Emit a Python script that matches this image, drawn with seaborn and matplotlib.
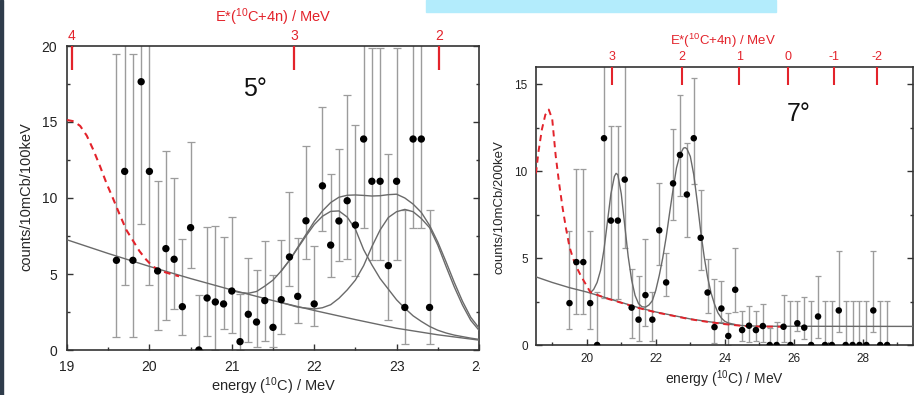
import numpy as np
import matplotlib
matplotlib.use("Agg")
import matplotlib.pyplot as plt
from matplotlib.patches import Rectangle
from matplotlib.ticker import MultipleLocator
import seaborn as sns

# ---------------- data: 5 degree panel ----------------
e5 = [19.6, 19.7, 19.8, 19.9, 20.0, 20.1, 20.2, 20.3, 20.4, 20.5, 20.6, 20.7, 20.8,
      20.9, 21.0, 21.1, 21.2, 21.3, 21.4, 21.5, 21.6, 21.7, 21.8, 21.9, 22.0, 22.1,
      22.2, 22.3, 22.4, 22.5, 22.6, 22.7, 22.8, 22.9, 23.0, 23.1, 23.2, 23.3, 23.4]
c5 = [5.9, 11.75, 5.9, 17.65, 11.75, 5.2, 6.67, 5.97, 2.85, 8.05, 0.0, 3.42, 3.16,
      3.03, 3.88, 0.55, 2.35, 1.84, 3.25, 1.49, 3.31, 6.12, 3.53, 8.5, 3.03, 10.8,
      6.9, 8.49, 9.82, 8.22, 13.88, 11.1, 11.1, 5.55, 11.1, 2.8, 13.88, 13.88, 2.8]
lo5 = [0.85, 4.27, 0.85, 8.3, 4.27, 1.3, 2.0, 2.68, 1.0, 5.4, 0.0, 0.9, 0.0,
       1.4, 1.1, 0.0, 0.55, 0.18, 0.6, 0.2, 1.03, 4.2, 1.8, 5.97, 1.6, 7.8,
       4.82, 5.86, 6.0, 4.9, 8.05, 5.9, 5.9, 2.0, 5.9, 0.4, 8.05, 8.05, 0.4]
hi5 = [19.5, 24.0, 19.5, 24.0, 24.0, 11.1, 13.1, 11.3, 7.3, 13.67, 3.65, 8.1, 8.14,
       7.46, 8.77, 3.66, 6.05, 5.28, 7.2, 4.93, 7.24, 10.37, 7.35, 13.4, 6.86, 15.97,
       11.58, 13.25, 16.8, 14.8, 24.0, 19.85, 19.85, 12.87, 19.85, 9.2, 24.0, 24.0, 9.2]

bg5_e = [19.0, 19.5, 20.0, 20.5, 21.0, 21.5, 22.0, 22.5, 23.0, 23.5, 24.0]
bg5_v = [7.25, 6.35, 5.5, 4.7, 3.95, 3.25, 2.6, 2.0, 1.43, 1.0, 0.65]

tot5_e = [21.0, 21.1, 21.2, 21.3, 21.4, 21.5, 21.6, 21.7, 21.8, 21.9, 22.0, 22.1,
          22.2, 22.3, 22.4, 22.5, 22.6, 22.7, 22.8, 22.9, 23.0, 23.1, 23.2, 23.3,
          23.4, 23.5, 23.6, 23.7, 23.8, 23.9, 24.0]
tot5_v = [3.9, 3.78, 3.73, 3.85, 4.2, 4.6, 5.2, 5.9, 6.75, 7.6, 8.45, 9.15,
          9.7, 10.05, 10.18, 10.2, 10.17, 10.13, 10.15, 10.22, 10.25, 10.0, 9.6, 9.05,
          8.2, 7.1, 5.8, 4.45, 3.2, 2.15, 1.45]

pk1_5_e = [21.6, 21.7, 21.8, 21.9, 22.0, 22.1, 22.2, 22.3, 22.4, 22.5, 22.6, 22.7,
           22.8, 22.9, 23.0, 23.1, 23.2, 23.3, 23.4, 23.5, 23.6, 23.7, 23.8, 23.9, 24.0]
pk1_5_v = [5.2, 5.9, 6.7, 7.5, 8.25, 8.8, 9.12, 9.15, 8.75, 7.95, 6.6, 5.6,
           4.7, 4.0, 3.3, 2.75, 2.25, 1.88, 1.55, 1.3, 1.12, 0.98, 0.88, 0.78, 0.7]

pk2_5_e = [21.6, 21.8, 22.0, 22.1, 22.2, 22.3, 22.4, 22.5, 22.6, 22.7, 22.8, 22.9,
           23.0, 23.1, 23.2, 23.3, 23.4, 23.5, 23.6, 23.7, 23.8, 23.9, 24.0]
pk2_5_v = [3.12, 2.82, 2.7, 2.78, 2.98, 3.4, 3.95, 4.6, 5.55, 6.8, 7.9, 8.72,
           9.1, 9.25, 9.1, 8.65, 8.05, 6.9, 5.5, 4.15, 2.95, 1.95, 1.3]

red5_e = [19.0, 19.08, 19.16, 19.24, 19.32, 19.4, 19.48, 19.56, 19.64, 19.72, 19.8,
          19.88, 19.96, 20.04, 20.12, 20.2, 20.28, 20.36]
red5_v = [15.13, 15.05, 14.74, 14.1, 13.16, 12.1, 10.96, 9.95, 8.9, 7.9, 7.2,
          6.5, 5.95, 5.5, 5.26, 5.1, 4.97, 4.85]

top5_pos = [19.06, 21.76, 23.52]
top5_lab = ['4', '3', '2']

# ---------------- data: 7 degree panel ----------------
e7 = [19.5, 19.7, 19.9, 20.1, 20.3, 20.5, 20.7, 20.9, 21.1, 21.3, 21.5, 21.7, 21.9,
      22.1, 22.3, 22.5, 22.7, 22.9, 23.1, 23.3, 23.5, 23.7, 23.9, 24.1, 24.3, 24.5,
      24.7, 24.9, 25.1, 25.3, 25.5, 25.7, 25.9, 26.1, 26.3, 26.5, 26.7, 26.9, 27.1,
      27.3, 27.5, 27.7, 27.9, 28.1, 28.3, 28.5, 28.7]
c7 = [2.41, 4.77, 4.77, 2.41, 0.0, 11.9, 7.16, 7.16, 9.52, 2.15, 1.46, 2.87, 1.46,
      6.6, 3.6, 9.3, 10.94, 8.66, 11.9, 6.17, 3.02, 1.03, 2.1, 0.52, 3.18, 0.86,
      1.11, 0.86, 1.09, 0.0, 0.0, 1.05, 0.0, 1.25, 1.0, 0.0, 1.64, 0.0, 0.0,
      1.99, 0.0, 0.0, 0.0, 0.0, 1.99, 0.0, 0.0]
lo7 = [0.92, 1.78, 1.78, 0.92, 0.0, 2.68, 2.64, 2.64, 5.6, 0.38, 0.25, 1.11, 0.25,
       4.6, 2.8, 7.2, 8.6, 6.22, 9.25, 4.31, 1.82, 0.1, 1.34, 0.0, 1.91, 0.25,
       0.2, 0.25, 0.2, 0.0, 0.0, 0.2, 0.0, 0.8, 0.36, 0.0, 0.38, 0.0, 0.0,
       0.77, 0.0, 0.0, 0.0, 0.0, 0.77, 0.0, 0.0]
hi7 = [6.57, 10.13, 10.13, 6.57, 3.06, 18.0, 12.6, 12.6, 18.0, 4.4, 3.95, 6.09, 3.06,
       9.3, 5.3, 12.45, 14.4, 11.65, 15.38, 8.9, 4.95, 3.8, 3.7, 1.82, 5.6, 1.95,
       2.26, 1.95, 2.34, 1.0, 1.35, 2.86, 2.55, 2.55, 2.78, 2.55, 3.97, 2.55, 2.55,
       5.4, 2.55, 2.55, 2.55, 2.55, 5.4, 2.55, 2.55]

bg7_e = [18.53, 19.0, 19.5, 20.0, 20.5, 21.0, 21.5, 22.0, 22.5, 23.0, 23.5, 24.0,
         24.5, 25.0, 29.45]
bg7_v = [3.92, 3.6, 3.3, 3.05, 2.75, 2.45, 2.15, 1.9, 1.7, 1.5, 1.35, 1.22,
         1.12, 1.08, 1.07]

red7_e = [18.53, 18.6, 18.7, 18.8, 18.9, 19.0, 19.1, 19.2, 19.3, 19.4, 19.5, 19.6,
          19.7, 19.8, 19.9, 20.0, 20.1, 20.5, 21.0, 21.5, 22.0, 22.5, 23.0, 23.5,
          24.0, 24.5, 25.0, 25.8]
red7_v = [9.87, 11.1, 12.4, 13.25, 13.55, 13.0, 10.9, 9.3, 7.9, 6.7, 5.65, 5.0,
          4.5, 4.1, 3.74, 3.4, 3.05, 2.73, 2.43, 2.13, 1.88, 1.68, 1.48, 1.33,
          1.2, 1.1, 1.06, 1.05]

pk7_e = [20.1, 20.2, 20.3, 20.4, 20.5, 20.6, 20.7, 20.8, 20.85, 20.9, 21.0, 21.1,
         21.2, 21.3, 21.4, 21.5, 21.6, 21.7, 21.8, 21.9, 22.0, 22.1, 22.2, 22.3,
         22.4, 22.5, 22.6, 22.7, 22.8, 22.85, 22.9, 23.0, 23.1, 23.2, 23.3, 23.4,
         23.5, 23.6, 23.7, 23.8, 23.9, 24.0, 24.1, 24.2, 24.3]
pk7_v = [3.0, 3.2, 3.6, 4.3, 5.5, 7.1, 8.7, 9.7, 9.88, 9.8, 8.7, 6.9,
         5.1, 3.74, 2.85, 2.38, 2.2, 2.18, 2.3, 2.55, 3.15, 4.0, 5.0, 6.2,
         7.6, 8.95, 10.2, 10.95, 11.33, 11.36, 11.3, 10.85, 9.8, 8.25, 6.55, 5.1,
         3.9, 3.0, 2.35, 1.85, 1.55, 1.36, 1.27, 1.22, 1.18]

top7_pos = [20.72, 22.75, 24.42, 25.84, 27.17, 28.42]
top7_lab = ['3', '2', '1', '0', '-1', '-2']

# ---------------- styling ----------------
sns.set_style("ticks")
plt.rcParams['font.family'] = ['Liberation Sans', 'DejaVu Sans']
plt.rcParams['mathtext.fontset'] = 'custom'
plt.rcParams['mathtext.rm'] = 'Liberation Sans'
plt.rcParams['mathtext.default'] = 'regular'

RED = '#e3232b'
SPINE = '#333333'
ERR = '#9c9c9c'
CURVE = '#6a6a6a'

W, H = 916, 395
fig = plt.figure(figsize=(W / 100, H / 100), dpi=100)


def px_axes(x0, y0, x1, y1):
    return fig.add_axes([x0 / W, 1 - y1 / H, (x1 - x0) / W, (y1 - y0) / H])


axL = px_axes(67, 46, 479, 350)
axR = px_axes(536, 67, 913, 345)


def style(ax, fs, xmaj, xmin, pad_x, pad_y):
    for s in ax.spines.values():
        s.set_color(SPINE)
        s.set_linewidth(1.2)
    ax.xaxis.set_major_locator(MultipleLocator(xmaj))
    ax.xaxis.set_minor_locator(MultipleLocator(xmin))
    ax.yaxis.set_major_locator(MultipleLocator(5))
    ax.yaxis.set_minor_locator(MultipleLocator(2.5))
    ax.tick_params(which='both', direction='in', top=True, right=True,
                   color=SPINE, labelcolor='#222222', labelsize=fs)
    ax.tick_params(which='major', length=4.5, width=1.0)
    ax.tick_params(which='minor', length=2.5, width=1.0)
    ax.tick_params(axis='x', which='major', pad=pad_x)
    ax.tick_params(axis='y', which='major', pad=pad_y)


def panel(ax, e, c, lo, hi, ms, cap):
    c = np.asarray(c); lo = np.asarray(lo); hi = np.asarray(hi)
    ax.errorbar(e, c, yerr=[c - lo, hi - c], fmt='none', ecolor=ERR,
                elinewidth=1.0, capsize=cap, capthick=0.9, zorder=2)
    sns.scatterplot(x=e, y=c, ax=ax, color='black', s=ms, edgecolor='none',
                    zorder=4, legend=False)


def curve(ax, x, y, color=CURVE, lw=1.0, ls='-'):
    sns.lineplot(x=x, y=y, ax=ax, color=color, lw=lw, linestyle=ls,
                 sort=False, estimator=None, zorder=3, legend=False)


# ---------------- left panel ----------------
panel(axL, e5, c5, lo5, hi5, 28, 3.0)
curve(axL, bg5_e, bg5_v)
curve(axL, tot5_e, tot5_v)
curve(axL, pk1_5_e, pk1_5_v)
curve(axL, pk2_5_e, pk2_5_v)
curve(axL, red5_e, red5_v, color=RED, lw=1.5, ls=(0, (3.2, 2.4)))
axL.set_xlim(19, 24)
axL.set_ylim(0, 20)
style(axL, 10, 1, 0.5, 7.5, 7)
axL.set_xlabel(r'energy ($^{10}$C) / MeV', fontsize=10.5)
axL.set_ylabel('counts/10mCb/100keV', fontsize=10.5)
axL.xaxis.set_label_coords(0.502, -0.118)
axL.xaxis.label.set_va('center')
axL.yaxis.set_label_coords(-0.0995, 0.503)
axL.yaxis.label.set_va('center')
axL.text(0.456, 0.859, '5°', transform=axL.transAxes, fontsize=18,
         ha='center', va='center', color='#111111')

twL = axL.twiny()
twL.set_xlim(axL.get_xlim())
twL.set_xticks(top5_pos, labels=top5_lab)
twL.xaxis.set_minor_locator(plt.NullLocator())
twL.tick_params(axis='x', direction='in', length=17, width=1.6, color=RED,
                labelcolor=RED, labelsize=10, pad=2.5)
for s in twL.spines.values():
    s.set_visible(False)
twL.set_xlabel(r'E*($^{10}$C+4n) / MeV', fontsize=10.5, color=RED)
twL.xaxis.set_label_coords(0.502, 1.095)
twL.xaxis.label.set_va('center')

# ---------------- right panel ----------------
panel(axR, e7, c7, lo7, hi7, 22, 2.5)
curve(axR, bg7_e, bg7_v)
curve(axR, pk7_e, pk7_v)
curve(axR, red7_e, red7_v, color=RED, lw=1.4, ls=(0, (3.2, 2.4)))
axR.set_xlim(18.53, 29.45)
axR.set_ylim(0, 16)
style(axR, 8.5, 2, 1, 6, 6)
axR.set_xlabel(r'energy ($^{10}$C) / MeV', fontsize=10)
axR.set_ylabel('counts/10mCb/200keV', fontsize=9.5)
axR.xaxis.set_label_coords(0.499, -0.122)
axR.xaxis.label.set_va('center')
axR.yaxis.set_label_coords(-0.0955, 0.496)
axR.yaxis.label.set_va('center')
axR.text(0.698, 0.831, '7°', transform=axR.transAxes, fontsize=18,
         ha='center', va='center', color='#111111')

twR = axR.twiny()
twR.set_xlim(axR.get_xlim())
twR.set_xticks(top7_pos, labels=top7_lab)
twR.xaxis.set_minor_locator(plt.NullLocator())
twR.tick_params(axis='x', direction='in', length=13, width=1.5, color=RED,
                labelcolor=RED, labelsize=9, pad=3)
for s in twR.spines.values():
    s.set_visible(False)
twR.set_xlabel(r'E*($^{10}$C+4n) / MeV', fontsize=9.5, color=RED)
twR.xaxis.set_label_coords(0.496, 1.0935)
twR.xaxis.label.set_va('center')

# ---------------- page decorations ----------------
fig.patches.append(Rectangle((0, 0), 3 / W, 1, transform=fig.transFigure,
                             color='#2f3c4b', zorder=10))
fig.patches.append(Rectangle((426 / W, 1 - 12 / H), 350 / W, 12 / H,
                             transform=fig.transFigure, color='#b3ecfc', zorder=10))
fig.patches.append(Rectangle((480 / W, 1 - 380 / H), 22 / W, 25 / H,
                             transform=fig.transFigure, color='white', zorder=10))

fig.savefig('out.png', dpi=100)
